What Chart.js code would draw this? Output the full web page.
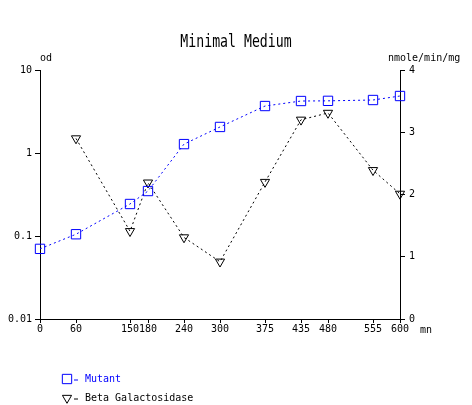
<!DOCTYPE html>
<html>
<head>
<meta charset="utf-8">
<script src="https://cdn.jsdelivr.net/npm/chart.js@4/dist/chart.umd.min.js"></script>
<style>
  html, body { margin: 0; padding: 0; background: #fff; }
  #wrap { width: 472px; height: 405px; }
</style>
</head>
<body>
<div id="wrap"><canvas id="c" width="472" height="405"></canvas></div>
<script>
// time points (mn)
const xTicks = [0, 60, 150, 180, 240, 300, 375, 435, 480, 555, 600];
const mutantTimes = [0, 60, 150, 180, 240, 300, 375, 435, 480, 555, 600];
const mutantOd = [0.07, 0.105, 0.243, 0.348, 1.28, 2.06, 3.68, 4.23, 4.25, 4.35, 4.86];
const betaTimes = [60, 150, 180, 240, 300, 375, 435, 480, 555, 600];
const betaGal = [2.90, 1.41, 2.19, 1.31, 0.92, 2.20, 3.20, 3.31, 2.39, 2.01];
const odTicks = [0.01, 0.1, 1, 10];
const odLabels = ['0.01', '0.1', '1', '10'];

const MONO = '"DejaVu Sans Mono", monospace';
Chart.defaults.font.family = MONO;
Chart.defaults.font.size = 10;
Chart.defaults.color = '#000';

function pts(xs, ys){ return xs.map((x, i) => ({ x: x, y: ys[i] })); }

// title, axis captions and the vertical legend
const extras = {
  id: 'extras',
  afterDraw(chart){
    const ctx = chart.ctx;
    const a = chart.chartArea;
    ctx.save();
    ctx.fillStyle = '#000';
    ctx.textBaseline = 'alphabetic';
    ctx.textAlign = 'center';
    ctx.save();
    ctx.translate(236, 47);
    ctx.scale(0.88, 1.15);
    ctx.font = '15px ' + MONO;
    ctx.fillText('Minimal Medium', 0, 0);
    ctx.restore();

    ctx.font = '10px ' + MONO;
    ctx.textAlign = 'left';
    ctx.fillText('od', a.left, 61);
    ctx.fillText('nmole/min/mg', a.right - 12, 61);
    ctx.fillText('mn', a.right + 20, a.bottom + 14);

    chart.data.datasets.forEach((ds, i) => {
      const y = 379 + i * 19;
      ctx.strokeStyle = ds.borderColor;
      ctx.fillStyle = 'rgba(0,0,0,0)';
      ctx.lineWidth = 1;
      ctx.setLineDash([]);
      Chart.helpers.drawPoint(ctx, { pointStyle: ds.pointStyle, radius: ds.pointRadius, rotation: ds.pointRotation || 0, borderWidth: 1 }, 67, y);
      ctx.beginPath(); ctx.moveTo(74, y + 1); ctx.lineTo(78, y + 1); ctx.stroke();
      ctx.fillStyle = ds.borderColor;
      ctx.textBaseline = 'middle';
      ctx.fillText(ds.label, 85, y);
    });
    ctx.restore();
  }
};

new Chart(document.getElementById('c'), {
  type: 'line',
  data: {
    datasets: [
      {
        label: 'Mutant', data: pts(mutantTimes, mutantOd), yAxisID: 'y',
        borderColor: '#0000ff', backgroundColor: 'transparent', borderWidth: 1, borderDash: [2, 3],
        pointStyle: 'rect', pointRadius: 6.6, pointBorderWidth: 1, pointBackgroundColor: 'transparent',
        tension: 0, clip: false
      },
      {
        label: 'Beta Galactosidase', data: pts(betaTimes, betaGal), yAxisID: 'y2',
        borderColor: '#000', backgroundColor: 'transparent', borderWidth: 1, borderDash: [2, 3],
        pointStyle: 'triangle', pointRotation: 180, pointRadius: 5.3, pointBorderWidth: 1, pointBackgroundColor: 'transparent',
        tension: 0, clip: false
      }
    ]
  },
  options: {
    responsive: false,
    animation: false,
    layout: { padding: { top: 70, bottom: 66, left: 0, right: 0 } },
    plugins: { legend: { display: false }, title: { display: false }, tooltip: { enabled: false } },
    scales: {
      x: {
        type: 'linear', min: 0, max: 600,
        afterBuildTicks: s => { s.ticks = xTicks.map(v => ({ value: v })); },
        afterFit: s => { s.height = 20; },
        ticks: { autoSkip: false, maxRotation: 0, padding: 0, callback: v => String(v) },
        grid: { drawOnChartArea: false, tickLength: 4, color: '#000' },
        border: { color: '#000', width: 1 }
      },
      y: {
        type: 'logarithmic', position: 'left', min: 0.01, max: 10,
        afterBuildTicks: s => { s.ticks = odTicks.map(v => ({ value: v })); },
        afterFit: s => { s.width = 40; },
        ticks: { padding: 3, callback: (v) => { const i = odTicks.indexOf(v); return i >= 0 ? odLabels[i] : ''; } },
        grid: { drawOnChartArea: false, tickLength: 5, color: '#000' },
        border: { color: '#000', width: 1 }
      },
      y2: {
        type: 'linear', position: 'right', min: 0, max: 4,
        afterFit: s => { s.width = 72; },
        ticks: { stepSize: 1, padding: 4 },
        grid: { drawOnChartArea: false, tickLength: 5, color: '#000' },
        border: { color: '#000', width: 1 }
      }
    }
  },
  plugins: [extras]
});
</script>
</body>
</html>
